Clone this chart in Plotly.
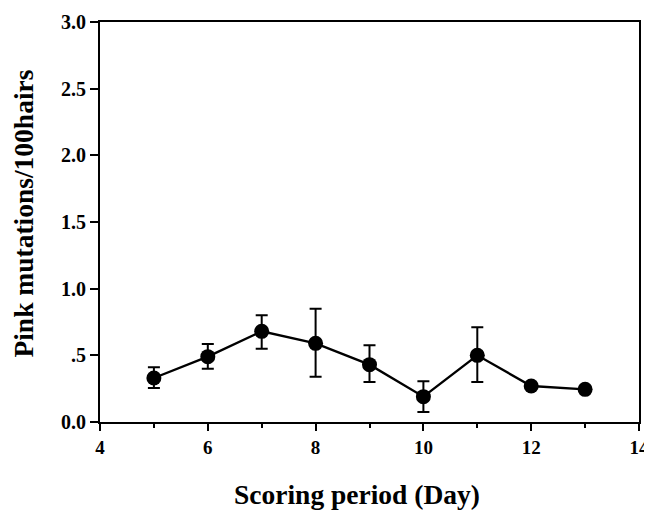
import plotly.graph_objects as go

days = [5, 6, 7, 8, 9, 10, 11, 12, 13]
mutations = [0.33, 0.49, 0.68, 0.59, 0.43, 0.19, 0.50, 0.27, 0.245]
err_plus = [0.08, 0.095, 0.12, 0.26, 0.145, 0.115, 0.21, 0.0, 0.0]
err_minus = [0.075, 0.09, 0.13, 0.25, 0.13, 0.115, 0.20, 0.0, 0.0]

y_tick_vals = [0, 0.5, 1.0, 1.5, 2.0, 2.5, 3.0]
y_tick_text = ["0.0", ".5", "1.0", "1.5", "2.0", "2.5", "3.0"]
x_tick_vals = [4, 6, 8, 10, 12, 14]
x_tick_text = ["4", "6", "8", "10", "12", "14"]

font_family = "Liberation Serif"

fig = go.Figure()
fig.add_trace(go.Scatter(
    x=days, y=mutations,
    mode="lines+markers",
    line=dict(color="black", width=2.4),
    marker=dict(color="black", size=15, line=dict(width=0)),
    error_y=dict(type="data", symmetric=False, array=err_plus, arrayminus=err_minus,
                 color="black", thickness=2, width=6),
    showlegend=False,
))

fig.update_layout(
    width=644, height=506,
    margin=dict(l=92, r=13, t=14, b=92, autoexpand=False),
    paper_bgcolor="white", plot_bgcolor="white",
    font=dict(family=font_family, color="black", size=19),
    xaxis=dict(
        range=[4, 14], tickvals=x_tick_vals, ticktext=["<b>%s</b>" % t for t in x_tick_text],
        ticks="outside", ticklen=7, tickwidth=2, tickcolor="black",
        minor=dict(ticks="outside", dtick=1, tick0=4, ticklen=4, tickwidth=2, tickcolor="black"),
        showline=True, linecolor="black", linewidth=2, mirror=True,
        showgrid=False, zeroline=False, automargin=False,
        tickfont=dict(family=font_family, size=19, color="black"),
    ),
    yaxis=dict(
        range=[0, 3], tickvals=y_tick_vals, ticktext=["<b>%s</b>" % t for t in y_tick_text],
        ticks="outside", ticklen=8, tickwidth=2, tickcolor="black",
        showline=True, linecolor="black", linewidth=2, mirror=True,
        showgrid=False, zeroline=False, automargin=False,
        tickfont=dict(family=font_family, size=20, color="black"),
    ),
    annotations=[
        dict(text="<b>Scoring period (Day)</b>", xref="paper", yref="paper",
             x=0.477, y=-0.181, xanchor="center", yanchor="middle", showarrow=False,
             font=dict(family=font_family, size=27.5, color="black")),
        dict(text="<b>Pink mutations/100hairs</b>", xref="paper", yref="paper",
             x=-0.141, y=0.521, xanchor="center", yanchor="middle", showarrow=False,
             textangle=-90, font=dict(family=font_family, size=27.5, color="black")),
    ],
)

fig.write_html("out.html")
